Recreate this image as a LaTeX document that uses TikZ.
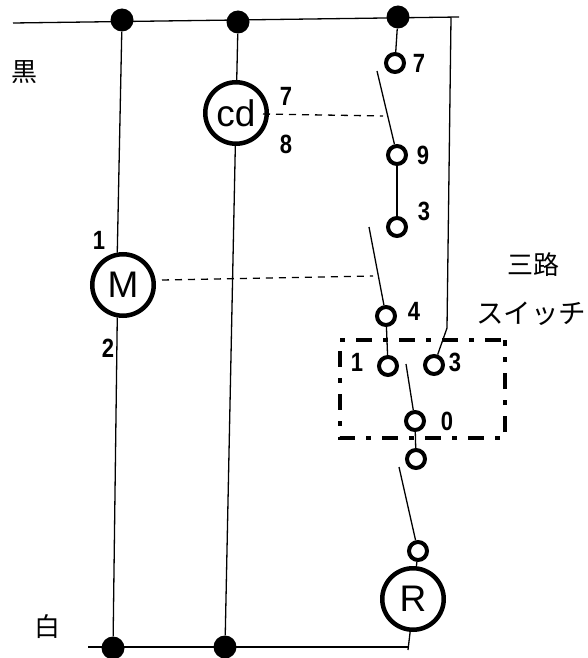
\documentclass[tikz,border=0pt]{standalone}
\usepackage{graphicx}
\usepackage{fontspec}
\setmainfont{Liberation Sans}
\newfontfamily\cjk{Noto Sans CJK JP}
\newcommand\dgt[1]{\scalebox{1}[1.2]{#1}}
\begin{document}
\begin{tikzpicture}[x=1pt,y=-1pt,
 wire/.style={line width=1.3pt},
 dot/.style={circle,fill=black,inner sep=0pt,minimum size=23pt},
 term/.style={circle,draw,line width=4pt,fill=white,inner sep=0pt,minimum size=18pt},
 dev/.style={circle,draw,line width=4.5pt,fill=white,inner sep=0pt,minimum size=61.5pt,font=\fontsize{37}{37}\selectfont},
 num/.style={font=\bfseries\fontsize{22}{22}\selectfont,inner sep=0pt},
 jp/.style={font=\cjk\fontsize{26}{26}\selectfont,inner sep=0pt},
 frameline/.style={line width=4pt,dash pattern=on 16pt off 11pt on 5pt off 11pt}]
\useasboundingbox (0,0) rectangle (587,658);
\coordinate (tl) at (13,23); \coordinate (tr) at (459,17);
\coordinate (bl) at (88,647); \coordinate (br) at (408,647);
\draw[wire] (tl) -- (tr);
\draw[wire] (bl) -- (br);
\node[dot] (d1) at (122,20) {};
\node[dot] (d2) at (238,22) {};
\node[dot] (d3) at (398,17) {};
\node[dot] (d4) at (113,648) {};
\node[dot] (d5) at (225,647) {};
\node[dev] (M) at (123,285) {M};
\node[dev] (cd) at (236,113) {cd};
\node[dev] (R) at (413,599) {R};
\draw[frameline,dash phase=32pt] (340,340) -- (340,438) -- (505,438) -- (505,340);
\draw[frameline,dash phase=27pt] (340,340) -- (505,340);
\node[term] (t7) at (395,63) {};
\node[term] (t9) at (397,155) {};
\node[term] (t3) at (397,227) {};
\node[term] (t4) at (386,316) {};
\node[term] (t1) at (388,366) {};
\node[term] (t3b) at (434,365) {};
\node[term] (t0) at (415,421) {};
\node[term] (t5) at (416,459) {};
\node[term] (t6) at (418,551) {};
\draw[wire] (d1) -- (M.100);
\draw[wire] (M.260) -- (d4);
\draw[wire] (d2) -- (cd);
\draw[wire] (cd) -- (d5);
\draw[wire] (d3) -- (t7);
\draw[wire] (t9) -- (t3);
\draw[wire] (t4) -- (t1);
\draw[wire] (t0) -- (t5);
\draw[wire] (t6) -- (R);
\coordinate (rend) at (408,650);
\draw[wire] (R.265) -- (rend);
\coordinate (n1) at (377,71); \coordinate (n2) at (369,227);
\coordinate (n3) at (406,364); \coordinate (n4) at (399,467);
\coordinate (rt) at (451,18); \coordinate (rb) at (447,328);
\draw[wire] (n1) -- (t9);
\draw[wire] (n2) -- (t4);
\draw[wire] (n3) -- (t0);
\draw[wire] (n4) -- (t6);
\draw[wire] (rt) -- (rb) -- (t3b);
\coordinate (c1) at (263,114); \coordinate (s1) at (383,116);
\coordinate (m1) at (162,280); \coordinate (s2) at (373,276);
\draw[wire,dash pattern=on 7pt off 6pt] (c1) -- (s1);
\draw[wire,dash pattern=on 7pt off 6pt] (m1) -- (s2);
\node[num] at (99,240) {\dgt{1}};
\node[num] at (108,348) {\dgt{2}};
\node[num] at (286,96) {\dgt{7}};
\node[num] at (286,144) {\dgt{8}};
\node[num] at (419,63) {\dgt{7}};
\node[num] at (423,155) {\dgt{9}};
\node[num] at (424,211) {\dgt{3}};
\node[num] at (414,311) {\dgt{4}};
\node[num] at (357,362) {\dgt{1}};
\node[num] at (455,362) {\dgt{3}};
\node[num] at (447,421) {\dgt{0}};
\node[jp] at (24,72) {黒};
\node[jp] at (47,627) {白};
\node[jp] at (533,265) {三路};
\node[jp,font=\cjk\fontsize{27.5}{27.5}\selectfont] at (531,314) {スイッチ};
\end{tikzpicture}
\end{document}
